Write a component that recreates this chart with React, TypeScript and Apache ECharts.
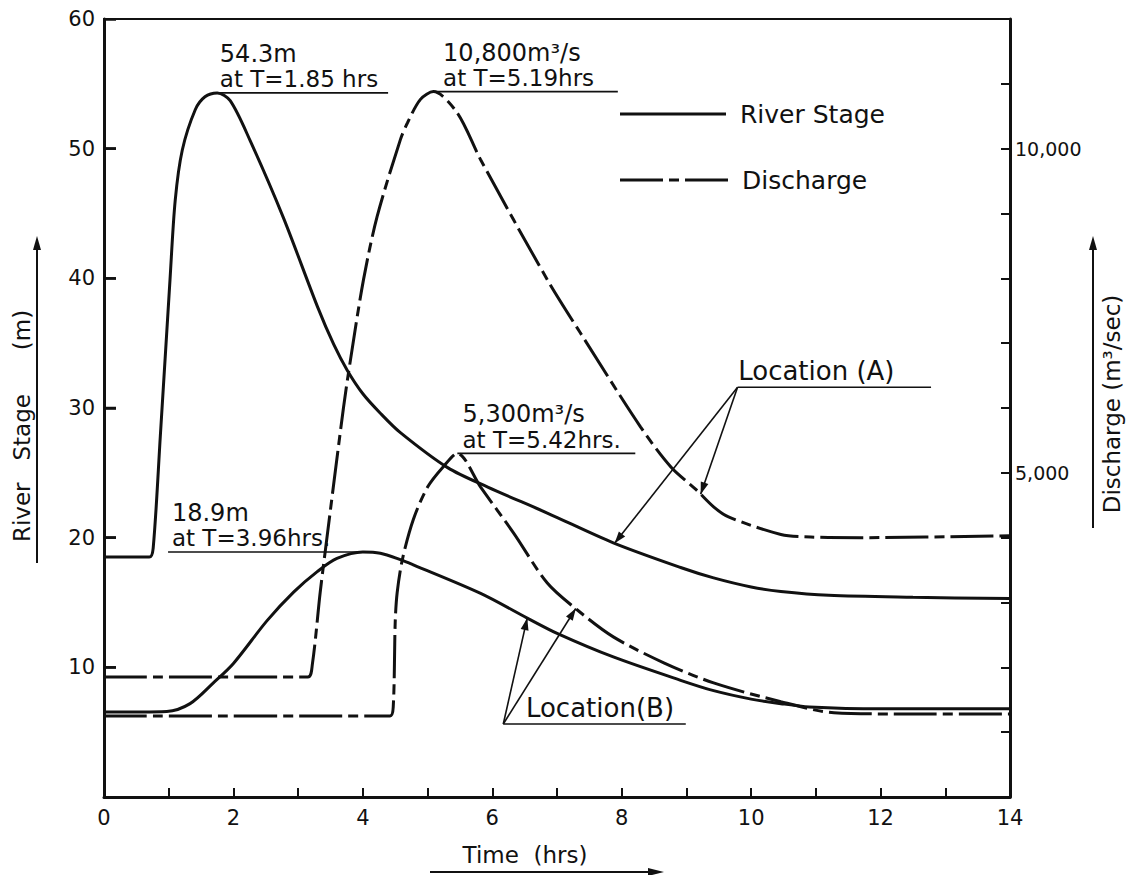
import React, { useEffect, useRef } from "react";
import * as echarts from "echarts";

// ---- Data (time in hrs, stage in m, discharge in m3/s) ----
const stageA: [number, number][] = [
  [0, 18.5], [0.7, 18.5], [0.76, 19.2], [0.87, 27.8], [1.02, 39.9], [1.1, 46.0],
  [1.21, 49.9], [1.41, 53.0], [1.56, 54.0], [1.75, 54.3], [1.95, 53.7], [2.26, 50.6],
  [2.77, 44.7], [3.3, 37.8], [3.55, 34.9], [3.76, 32.9], [4.0, 31.1], [4.27, 29.6],
  [4.58, 28.1], [5.31, 25.4], [5.93, 23.9], [6.85, 21.9], [7.87, 19.6], [8.91, 17.7],
  [9.42, 16.9], [10.0, 16.2], [10.46, 15.85], [11.2, 15.55], [12.5, 15.4], [14, 15.3],
];
const stageB: [number, number][] = [
  [0, 6.55], [0.97, 6.6], [1.33, 7.2], [1.69, 8.8], [2.0, 10.3], [2.52, 13.6],
  [2.93, 15.8], [3.3, 17.4], [3.6, 18.4], [4.0, 18.9], [4.27, 18.8], [4.58, 18.3],
  [4.78, 17.9], [5.82, 15.7], [6.54, 13.8], [7.01, 12.6], [7.87, 10.8], [8.91, 9.0],
  [9.42, 8.2], [10.0, 7.55], [10.46, 7.2], [10.9, 6.95], [12, 6.8], [14, 6.8],
];
const dischargeA: [number, number][] = [
  [0, 1850], [3.15, 1850], [3.22, 2050], [3.34, 3150], [3.42, 3800], [3.7, 6000],
  [3.81, 6750], [4.01, 7980], [4.22, 8950], [4.58, 10140], [4.69, 10400], [4.89, 10760],
  [5.09, 10880], [5.46, 10550], [5.82, 9830], [6.85, 7980], [7.36, 7160], [8.29, 5710],
  [8.76, 5090], [9.15, 4740], [9.42, 4475], [9.65, 4320], [10.46, 4050], [10.92, 4010],
  [11.7, 4000], [14, 4030],
];
const dischargeB: [number, number][] = [
  [0, 1250], [4.42, 1250], [4.47, 1400], [4.5, 2700], [4.53, 3150], [4.61, 3660],
  [4.78, 4280], [5.0, 4780], [5.24, 5090], [5.46, 5300], [5.82, 4780], [6.33, 4070],
  [6.85, 3300], [7.32, 2880], [7.87, 2470], [8.65, 2070], [9.42, 1760], [10.46, 1470],
  [11.28, 1300], [12.5, 1280], [14, 1280],
];

const xLabels = [0, 2, 4, 6, 8, 10, 12, 14];
const stageLabels = [10, 20, 30, 40, 50, 60];
const stageTicks = [10, 20, 30, 40, 50];
const dischargeLabels = [5000, 10000];

// Peak annotations (underline drawn from peak, two text lines above)
const peakNotes = [
  { axis: 0, lines: ["54.3m", "at T=1.85 hrs"], from: 1.75, to: 4.39, level: 54.3, textAt: 1.79 },
  { axis: 1, lines: ["10,800m³/s", "at T=5.19hrs"], from: 5.09, to: 7.94, level: 10880, textAt: 5.24 },
  { axis: 0, lines: ["18.9m", "at T=3.96hrs."], from: 0.99, to: 4.04, level: 18.9, textAt: 1.05 },
  { axis: 1, lines: ["5,300m³/s", "at T=5.42hrs."], from: 5.46, to: 8.21, level: 5300, textAt: 5.54 },
];

// Location callouts (origin in stage units, arrows to curves)
const locationNotes = [
  {
    label: "Location (A)", origin: [9.79, 31.6], to: 12.78, textAt: 9.8,
    targets: [{ data: stageA, axis: 0, t: 7.89 }, { data: dischargeA, axis: 1, t: 9.22 }],
  },
  {
    label: "Location(B)", origin: [6.17, 5.63], to: 8.99, textAt: 6.52,
    targets: [{ data: stageB, axis: 0, t: 6.54 }, { data: dischargeB, axis: 1, t: 7.29 }],
  },
];

const INK = "#111";
const FONT = '"DejaVu Sans", sans-serif';
const DASH_DOT = [43, 6, 10, 6];

function interp(data: [number, number][], t: number): number {
  for (let i = 0; i < data.length - 1; i++) {
    const [t0, v0] = data[i];
    const [t1, v1] = data[i + 1];
    if (t >= t0 && t <= t1) return v0 + ((v1 - v0) * (t - t0)) / (t1 - t0);
  }
  return data[data.length - 1][1];
}

function arrowHead(x1: number, y1: number, x2: number, y2: number, len = 12, w = 4) {
  const dx = x2 - x1, dy = y2 - y1;
  const d = Math.hypot(dx, dy) || 1;
  const ux = dx / d, uy = dy / d;
  const bx = x2 - ux * len, by = y2 - uy * len;
  return {
    type: "polygon", silent: true,
    shape: { points: [[x2, y2], [bx - uy * w, by + ux * w], [bx + uy * w, by - ux * w]] },
    style: { fill: INK },
  };
}

function line(x1: number, y1: number, x2: number, y2: number, lw = 1.6, dash?: number[]) {
  return {
    type: "line", silent: true,
    shape: { x1, y1, x2, y2 },
    style: { stroke: INK, lineWidth: lw, lineDash: dash },
  };
}

function text(x: number, y: number, s: string, size: number, align = "left", vAlign = "bottom", rotation = 0) {
  return {
    type: "text", silent: true, x, y, rotation,
    style: { text: s, font: `${size}px ${FONT}`, fill: INK, textAlign: align, textVerticalAlign: vAlign },
  };
}

export default function App() {
  const ref = useRef<HTMLDivElement>(null);
  useEffect(() => {
    if (!ref.current) return;
    const chart = echarts.init(ref.current, undefined, { renderer: "svg" });
    const seriesLine = (name: string, data: [number, number][], yAxisIndex: number, dashed: boolean) => ({
      name, type: "line", data, yAxisIndex,
      symbol: "none", showSymbol: false, smooth: 0.3,
      lineStyle: { color: INK, width: 3, type: dashed ? DASH_DOT : "solid" },
      z: 3,
    });
    const axisText = { color: INK, fontFamily: FONT };
    chart.setOption({
      animation: false,
      backgroundColor: "#fff",
      grid: { left: 104, right: 120, top: 19, bottom: 78, show: true, borderColor: INK, borderWidth: 2 },
      xAxis: {
        type: "value", min: 0, max: 14, interval: 1,
        axisLine: { lineStyle: { color: INK, width: 3 } },
        axisTick: { inside: true, length: 9, lineStyle: { color: INK, width: 2 } },
        splitLine: { show: false },
        axisLabel: {
          ...axisText, fontSize: 21, margin: 10,
          formatter: (v: number) => (xLabels.includes(v) ? String(v) : ""),
        },
      },
      yAxis: [
        {
          type: "value", min: 0, max: 60, interval: 10, position: "left",
          axisLine: { show: true, lineStyle: { color: INK, width: 3 } },
          axisTick: { show: true, inside: true, length: 12, lineStyle: { color: INK, width: 2.5 } },
          splitLine: { show: false },
          axisLabel: {
            ...axisText, fontSize: 21, margin: 9,
            formatter: (v: number) => (stageLabels.includes(v) ? String(v) : ""),
          },
        },
        {
          type: "value", min: 0, max: 12000, interval: 1000, position: "right",
          axisLine: { show: true, lineStyle: { color: INK, width: 3 } },
          axisTick: { show: true, inside: true, length: 9, lineStyle: { color: INK, width: 2 } },
          splitLine: { show: false },
          axisLabel: {
            ...axisText, fontSize: 19, margin: 5,
            formatter: (v: number) => (dischargeLabels.includes(v) ? v.toLocaleString("en-US") : ""),
          },
        },
      ],
      series: [
        seriesLine("River Stage (A)", stageA, 0, false),
        seriesLine("River Stage (B)", stageB, 0, false),
        seriesLine("Discharge (A)", dischargeA, 1, true),
        seriesLine("Discharge (B)", dischargeB, 1, true),
      ],
    });

    const px = (axis: number, t: number, v: number) =>
      chart.convertToPixel({ xAxisIndex: 0, yAxisIndex: axis }, [t, v]) as number[];

    const g: any[] = [];
    // Left-axis inward ticks (positions from the stage axis)
    for (const v of stageTicks) {
      const p = px(0, 0, v);
      g.push(line(p[0], p[1], p[0] + 12, p[1], 2.5));
    }
    // Peak notes
    for (const n of peakNotes) {
      const a = px(n.axis, n.from, n.level);
      const b = px(n.axis, n.to, n.level);
      const tx = px(n.axis, n.textAt, n.level)[0];
      g.push(line(a[0], a[1], b[0], b[1], 1.6));
      g.push(text(tx, a[1] - 27, n.lines[0], 24));
      g.push(text(tx, a[1] - 2, n.lines[1], 23));
    }
    // Location callouts
    for (const n of locationNotes) {
      const o = px(0, n.origin[0], n.origin[1]);
      const e = px(0, n.to, n.origin[1]);
      const tx = px(0, n.textAt, n.origin[1])[0];
      g.push(line(o[0], o[1], e[0], e[1], 1.6));
      g.push(text(tx, o[1] - 3, n.label, 26));
      for (const tg of n.targets) {
        const p = px(tg.axis, tg.t, interp(tg.data, tg.t));
        g.push(line(o[0], o[1], p[0], p[1], 1.6));
        g.push(arrowHead(o[0], o[1], p[0], p[1]));
      }
    }
    // Legend
    g.push(line(620, 114, 726, 114, 3));
    g.push(text(740, 114, "River Stage", 25, "left", "middle"));
    g.push(line(620, 180, 728, 180, 3, DASH_DOT));
    g.push(text(742, 180, "Discharge", 25, "left", "middle"));
    // Axis titles with arrows
    g.push(text(22, 426, "River   Stage      (m)", 23, "center", "middle", Math.PI / 2));
    g.push(line(37, 563, 37, 240, 2));
    g.push(arrowHead(37, 563, 37, 236, 14, 4));
    g.push(text(1112, 404, "Discharge (m³/sec)", 23, "center", "middle", Math.PI / 2));
    g.push(line(1093, 528, 1093, 240, 2));
    g.push(arrowHead(1093, 528, 1093, 236, 14, 4));
    g.push(text(525, 855, "Time  (hrs)", 23, "center", "middle"));
    g.push(line(430, 872, 658, 872, 2));
    g.push(arrowHead(430, 872, 664, 872, 16, 4));

    chart.setOption({ graphic: { elements: g } });
    return () => chart.dispose();
  }, []);
  return (
    <div
      ref={ref}
      style={{ position: "absolute", left: 0, top: 0, width: 1130, height: 875, background: "#fff" }}
    />
  );
}
